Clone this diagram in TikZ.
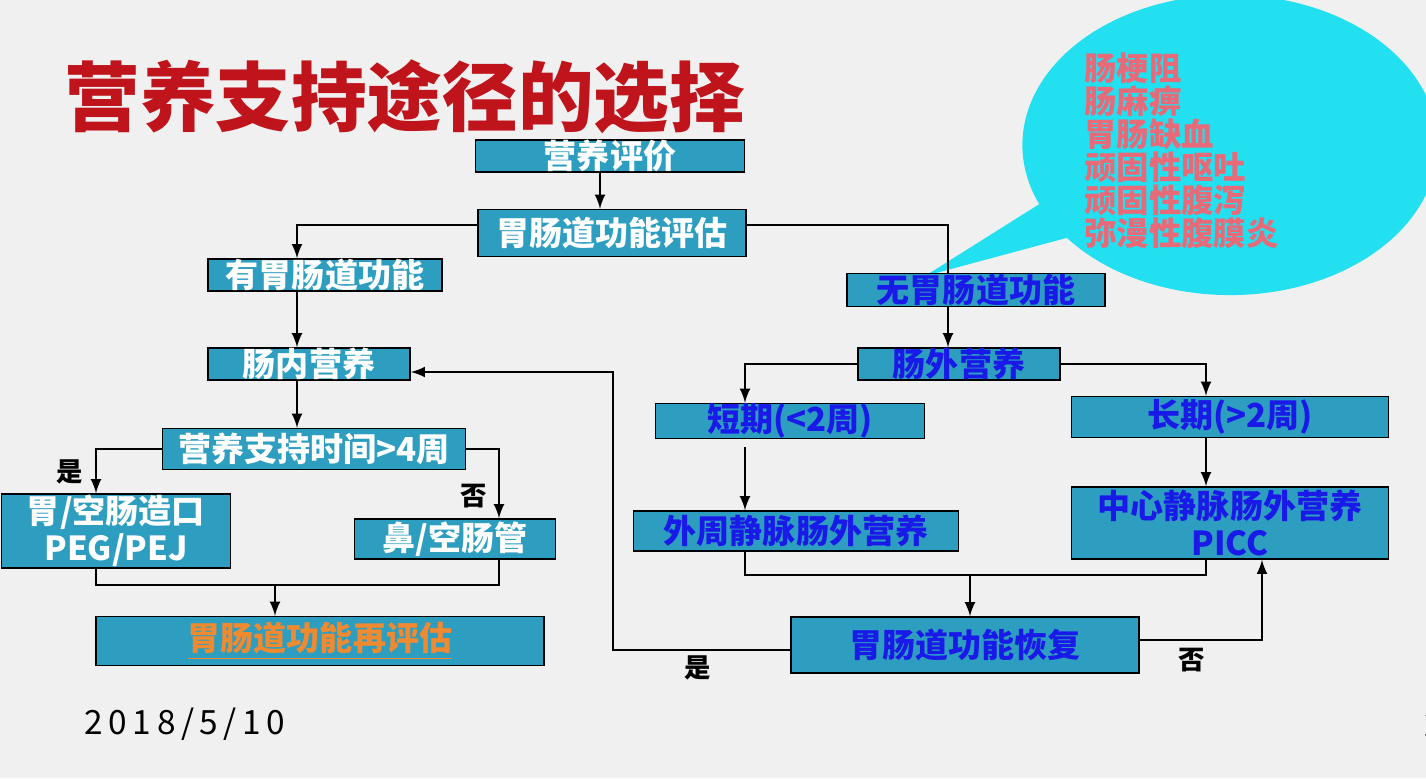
\documentclass[tikz,border=0pt]{standalone}
\usepackage{fontspec}
\setmainfont{Noto Sans CJK SC}
\usepackage{tikz}
\usetikzlibrary{shapes.callouts}
\definecolor{boxfill}{HTML}{2E9EC0}
\definecolor{txtblue}{HTML}{1A1AE8}
\definecolor{titlered}{HTML}{C0141C}
\definecolor{calloutred}{HTML}{E86A78}
\definecolor{bluecall}{HTML}{22E0F0}
\definecolor{orangetxt}{HTML}{F08A30}
\tikzset{
  stagebox/.style={draw=black, fill=boxfill, font=\bfseries\fontsize{9.4}{10.5}\selectfont, inner sep=0pt, align=center, text=white},
  bluebox/.style={stagebox, text=txtblue},
  flow/.style={-latex, thin},
  plain/.style={thin},
  yesno/.style={font=\bfseries\fontsize{7.5}{9}\selectfont}
}
\begin{document}
\begin{tikzpicture}[x=0.01cm, y=-0.01cm]
	\fill [gray!12] (0,0) rectangle (1426,778);
	\useasboundingbox (0,0) rectangle (1426,778);
	\node[titlered, font=\bfseries\fontsize{21.5}{24}\selectfont, anchor=west] (title) at (52,97) {营养支持途径的选择};
	% callout
	\node[ellipse callout, fill=bluecall, minimum width=4.15cm, minimum height=3.0cm, callout absolute pointer={(925,276)}] (call) at (1230,145) {};
	\node[calloutred, font=\bfseries\fontsize{9.2}{9.4}\selectfont, align=left, anchor=north west] (calltxt) at (1072,40) {肠梗阻\\肠麻痹\\胃肠缺血\\顽固性呕吐\\顽固性腹泻\\弥漫性腹膜炎};
	% boxes
	\node[stagebox, minimum width=2.69cm, minimum height=0.32cm] (eval) at (610,156) {营养评价};
	\node[stagebox, minimum width=2.68cm, minimum height=0.47cm] (gi) at (612,233) {胃肠道功能评估};
	\node[stagebox, minimum width=2.34cm, minimum height=0.32cm] (hasgi) at (325,275) {有胃肠道功能};
	\node[bluebox, minimum width=2.58cm, minimum height=0.33cm] (nogi) at (976,290) {无胃肠道功能};
	\node[stagebox, minimum width=2.02cm, minimum height=0.32cm] (en) at (309,364) {肠内营养};
	\node[bluebox, minimum width=2.02cm, minimum height=0.32cm] (pn) at (959,364) {肠外营养};
	\node[bluebox, minimum width=2.69cm, minimum height=0.32cm] (short) at (790,421) {短期(<2周)};
	\node[bluebox, minimum width=3.17cm, minimum height=0.41cm] (long) at (1230,417) {长期(>2周)};
	\node[stagebox, minimum width=3.03cm, minimum height=0.41cm] (time) at (314,449) {营养支持时间>4周};
	\node[stagebox, minimum width=2.29cm, minimum height=0.74cm] (peg) at (116,531) {胃/空肠造口\\PEG/PEJ};
	\node[stagebox, minimum width=2.01cm, minimum height=0.40cm] (tube) at (455,539) {鼻/空肠管};
	\node[bluebox, minimum width=3.25cm, minimum height=0.40cm] (ppn) at (796,531) {外周静脉肠外营养};
	\node[bluebox, minimum width=3.17cm, minimum height=0.72cm] (cpn) at (1230,523) {中心静脉肠外营养\\PICC};
	\node[stagebox, text=orangetxt, minimum width=4.48cm, minimum height=0.49cm] (reeval) at (320,641) {\underline{胃肠道功能再评估}};
	\node[bluebox, minimum width=3.48cm, minimum height=0.56cm] (rec) at (965,645) {胃肠道功能恢复};
	% labels
	\node[yesno] (yes1) at (70,472) {是};
	\node[yesno] (no1) at (474,496) {否};
	\node[yesno] (yes2) at (698,668) {是};
	\node[yesno] (no2) at (1192,660) {否};
	\node[font=\fontsize{9.5}{11}\selectfont] (date) at (185,724) {2\,0\,1\,8\,/\,5\,/\,1\,0};
	\node[font=\fontsize{9.5}{11}\selectfont, anchor=west] (page) at (1412,724) {2};
	% connectors
	\draw[flow] (eval.south -| 600,0) -- (gi.north -| 600,0);
	\draw[flow] (gi.west |- 0,225) -| (hasgi.north -| 297,0);
	\draw[plain] (gi.east |- 0,225) -| (nogi.north -| 948,0);
	\draw[flow] (hasgi.south -| 297,0) -- (en.north -| 297,0);
	\draw[flow] (nogi.south -| 948,0) -- (pn.north -| 948,0);
	\draw[flow] (en.south -| 297,0) -- (time.north -| 297,0);
	\draw[flow] (time.west) -| (peg.north -| 96,0);
	\draw[flow] (time.east) -| (tube.north -| 499,0);
	\coordinate (lj) at (275,585);
	\draw[plain] (peg.south -| 96,0) |- (lj) -| (tube.south -| 499,0);
	\draw[flow] (lj) -- (reeval.north -| lj);
	\draw[flow] (pn.west) -| (short.north -| 745,0);
	\draw[flow] (pn.east) -| (long.north -| 1206,0);
	\draw[flow] (745,447) -- (ppn.north -| 745,0);
	\draw[flow] (long.south -| 1206,0) -- (cpn.north -| 1206,0);
	\coordinate (rj) at (970,575);
	\draw[plain] (ppn.south -| 745,0) |- (rj) -| (cpn.south -| 1206,0);
	\draw[flow] (rj) -- (rec.north -| rj);
	\draw[flow] (rec.west |- 0,650) -| (613,372) -- (en.east |- 0,372);
	\draw[flow] (rec.east |- 0,640) -| (cpn.south -| 1262,0);
\end{tikzpicture}
\end{document}
